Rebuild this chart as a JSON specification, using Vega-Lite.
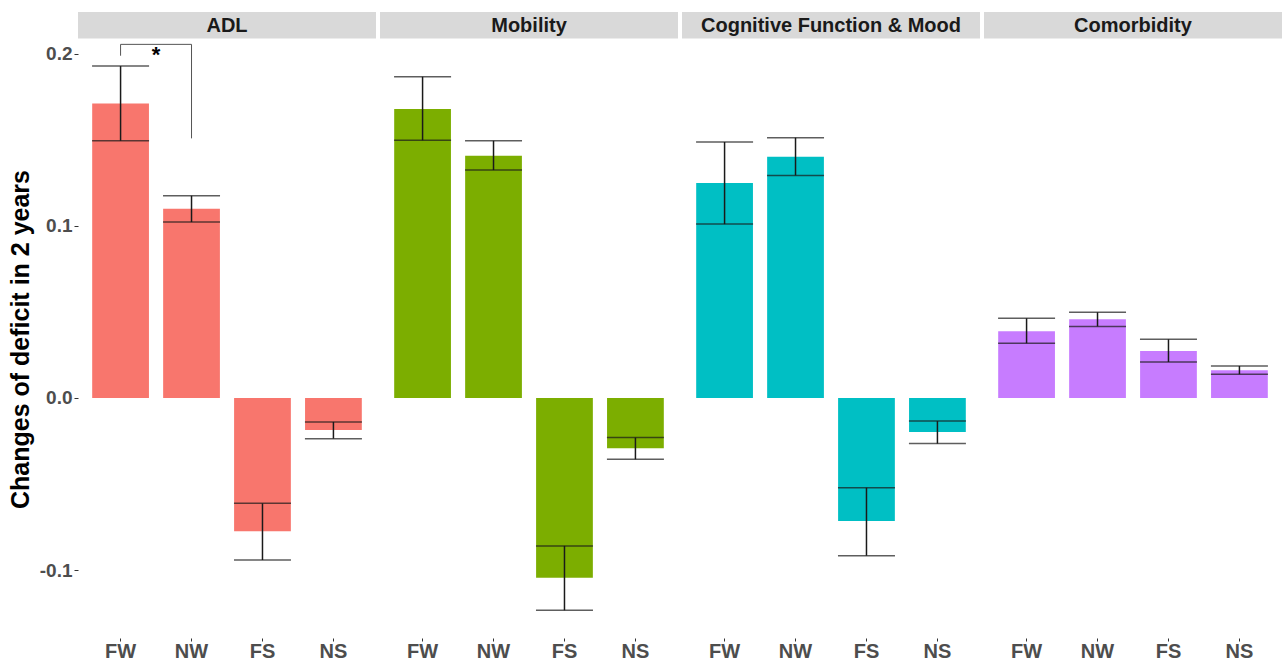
{
  "$schema": "https://vega.github.io/schema/vega-lite/v6.json",
  "padding": {"left": 8, "top": 12, "right": 0, "bottom": 0},
  "background": "white",
  "data": {
    "values": [
      {"kind": "bar", "panel": "ADL", "group": "FW", "mean": 0.1711, "lo": 0.1494, "hi": 0.1928},
      {"kind": "bar", "panel": "ADL", "group": "NW", "mean": 0.1099, "lo": 0.1022, "hi": 0.1175},
      {"kind": "bar", "panel": "ADL", "group": "FS", "mean": -0.0774, "lo": -0.0941, "hi": -0.0612},
      {"kind": "bar", "panel": "ADL", "group": "NS", "mean": -0.0186, "lo": -0.0236, "hi": -0.0139},
      {"kind": "bar", "panel": "Mobility", "group": "FW", "mean": 0.1678, "lo": 0.1497, "hi": 0.1866},
      {"kind": "bar", "panel": "Mobility", "group": "NW", "mean": 0.1407, "lo": 0.1324, "hi": 0.1494},
      {"kind": "bar", "panel": "Mobility", "group": "FS", "mean": -0.1044, "lo": -0.1233, "hi": -0.0859},
      {"kind": "bar", "panel": "Mobility", "group": "NS", "mean": -0.0292, "lo": -0.0356, "hi": -0.0230},
      {"kind": "bar", "panel": "Cognitive Function & Mood", "group": "FW", "mean": 0.1249, "lo": 0.1010, "hi": 0.1487},
      {"kind": "bar", "panel": "Cognitive Function & Mood", "group": "NW", "mean": 0.1401, "lo": 0.1293, "hi": 0.1512},
      {"kind": "bar", "panel": "Cognitive Function & Mood", "group": "FS", "mean": -0.0714, "lo": -0.0916, "hi": -0.0521},
      {"kind": "bar", "panel": "Cognitive Function & Mood", "group": "NS", "mean": -0.0197, "lo": -0.0265, "hi": -0.0134},
      {"kind": "bar", "panel": "Comorbidity", "group": "FW", "mean": 0.0387, "lo": 0.0318, "hi": 0.0463},
      {"kind": "bar", "panel": "Comorbidity", "group": "NW", "mean": 0.0457, "lo": 0.0416, "hi": 0.0498},
      {"kind": "bar", "panel": "Comorbidity", "group": "FS", "mean": 0.0273, "lo": 0.0209, "hi": 0.0341},
      {"kind": "bar", "panel": "Comorbidity", "group": "NS", "mean": 0.0161, "lo": 0.0138, "hi": 0.0186},
      {"kind": "strip", "panel": "ADL"},
      {"kind": "strip", "panel": "Mobility"},
      {"kind": "strip", "panel": "Cognitive Function & Mood"},
      {"kind": "strip", "panel": "Comorbidity"},
      {"kind": "bracket", "panel": "ADL", "group": "FW", "group2": "NW", "hi": 0.2054},
      {"kind": "leg", "panel": "ADL", "group": "FW", "lo": 0.1988, "hi": 0.2054},
      {"kind": "leg", "panel": "ADL", "group": "NW", "lo": 0.1508, "hi": 0.2054},
      {"kind": "star", "panel": "ADL", "group": "FW", "hi": 0.1953, "label": "*"}
    ]
  },
  "facet": {
    "column": {
      "field": "panel",
      "type": "nominal",
      "sort": ["ADL", "Mobility", "Cognitive Function & Mood", "Comorbidity"],
      "header": {"title": null, "labels": false}
    }
  },
  "spacing": 4,
  "spec": {
    "width": 298,
    "height": 626,
    "encoding": {
      "x": {
        "field": "group",
        "type": "nominal",
        "scale": {"domain": ["FW", "NW", "FS", "NS"], "paddingInner": 0.2, "paddingOuter": 0.2},
        "axis": {"title": null, "labelAngle": 0, "domain": false, "tickSize": 3, "tickColor": "#333333", "labelPadding": 0, "labelFontSize": 20, "labelFontWeight": "bold", "labelColor": "#4D4D4D", "labelFont": "Liberation Sans"}
      }
    },
    "layer": [
      {
        "transform": [{"filter": "datum.kind === 'strip'"}],
        "mark": {"type": "rect", "color": "#D9D9D9"},
        "encoding": {
          "x": null,
          "y": {"datum": 0.2242, "type": "quantitative"},
          "y2": {"datum": 0.2088}
        }
      },
      {
        "transform": [{"filter": "datum.kind === 'strip'"}],
        "mark": {"type": "text", "font": "Liberation Sans", "fontSize": 20, "fontWeight": "bold", "color": "#1A1A1A", "baseline": "middle", "align": "center"},
        "encoding": {
          "x": null,
          "y": {"datum": 0.2163, "type": "quantitative"},
          "text": {"field": "panel"}
        }
      },
      {
        "transform": [{"filter": "datum.kind === 'bar'"}],
        "mark": {"type": "bar"},
        "encoding": {
          "y": {
            "field": "mean",
            "type": "quantitative",
            "scale": {"domain": [-0.1394, 0.2242], "nice": false, "zero": false},
            "axis": {"title": "Changes of deficit in 2 years", "titleY": 327, "values": [-0.1, 0, 0.1, 0.2], "labelExpr": "datum.value < 0 ? '-' + format(-datum.value, '.1f') : format(datum.value, '.1f')", "grid": false, "domain": false, "tickSize": 4, "tickColor": "#333333", "labelPadding": 2, "labelFontSize": 19, "labelFontWeight": "bold", "labelColor": "#4D4D4D", "labelFont": "Liberation Sans", "titleFont": "Liberation Sans", "titleFontSize": 25, "titleFontWeight": "bold", "titleColor": "#000000", "titlePadding": 6}
          },
          "color": {
            "field": "panel",
            "type": "nominal",
            "scale": {"domain": ["ADL", "Mobility", "Cognitive Function & Mood", "Comorbidity"], "range": ["#F8766D", "#7CAE00", "#00BFC4", "#C77CFF"]},
            "legend": null
          }
        }
      },
      {
        "transform": [{"filter": "datum.kind === 'bar'"}],
        "mark": {"type": "rule", "color": "#1A1A1A", "strokeWidth": 1.5},
        "encoding": {
          "y": {"field": "lo", "type": "quantitative"},
          "y2": {"field": "hi"}
        }
      },
      {
        "transform": [{"filter": "datum.kind === 'bar'"}],
        "mark": {"type": "tick", "orient": "horizontal", "color": "#1A1A1A", "size": 57, "thickness": 1.5},
        "encoding": {
          "y": {"field": "lo", "type": "quantitative"}
        }
      },
      {
        "transform": [{"filter": "datum.kind === 'bar'"}],
        "mark": {"type": "tick", "orient": "horizontal", "color": "#1A1A1A", "size": 57, "thickness": 1.5},
        "encoding": {
          "y": {"field": "hi", "type": "quantitative"}
        }
      },
      {
        "transform": [{"filter": "datum.kind === 'bracket'"}],
        "mark": {"type": "rule", "color": "#555555", "strokeWidth": 1},
        "encoding": {
          "x2": {"field": "group2"},
          "y": {"field": "hi", "type": "quantitative"}
        }
      },
      {
        "transform": [{"filter": "datum.kind === 'leg'"}],
        "mark": {"type": "rule", "color": "#555555", "strokeWidth": 1},
        "encoding": {
          "y": {"field": "lo", "type": "quantitative"},
          "y2": {"field": "hi"}
        }
      },
      {
        "transform": [{"filter": "datum.kind === 'star'"}],
        "mark": {"type": "text", "font": "Liberation Sans", "fontSize": 22, "fontWeight": "bold", "color": "#000000", "baseline": "alphabetic", "align": "center", "dx": 35.5},
        "encoding": {
          "y": {"field": "hi", "type": "quantitative"},
          "text": {"field": "label"}
        }
      }
    ]
  },
  "config": {
    "view": {"stroke": null},
    "axis": {"grid": false}
  }
}
